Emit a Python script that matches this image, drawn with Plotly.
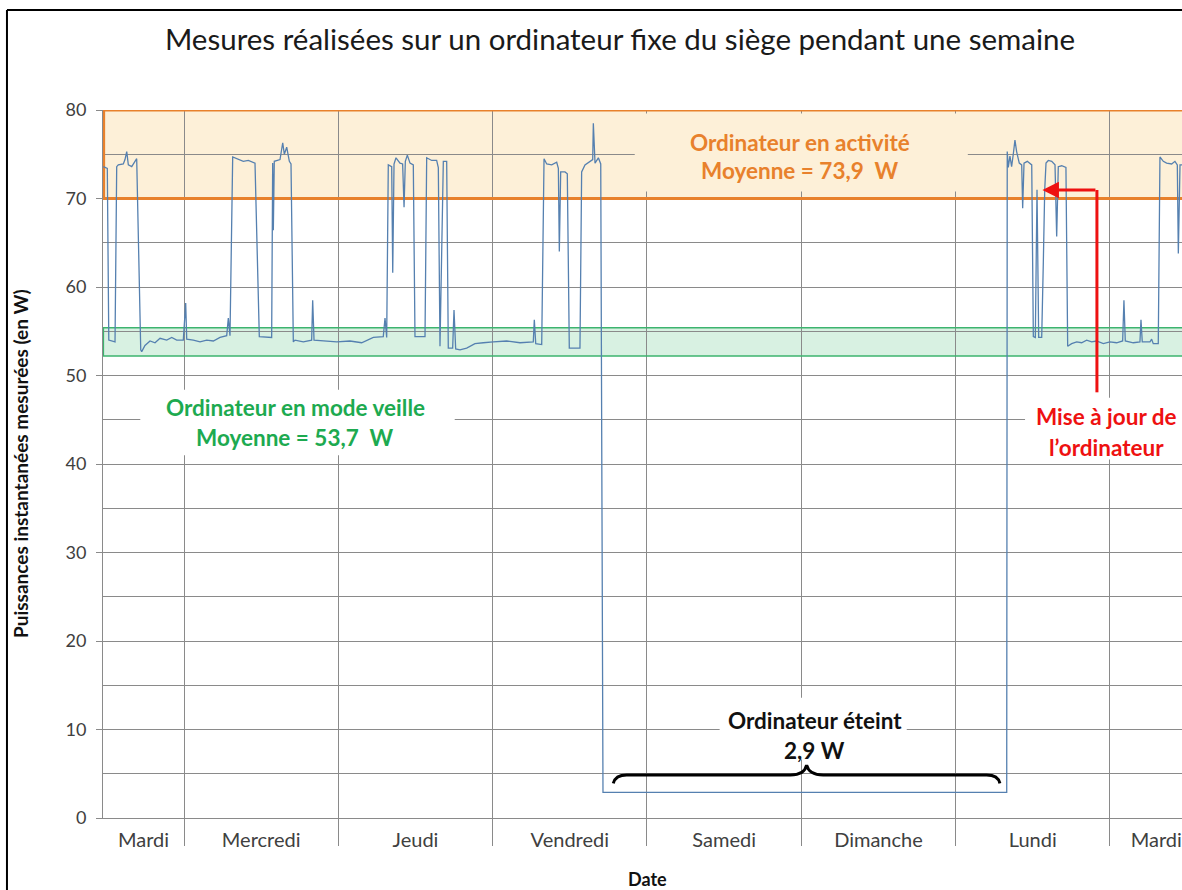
import plotly.graph_objects as go

# ---------------- data (hours since the first Tuesday 00:00, watts) ----------------
hours = [11.45, 12.07, 12.30, 13.27, 13.53, 13.78, 14.56, 14.82, 15.09, 15.34, 15.87, 16.38, 16.64,
         17.27, 17.42, 17.93, 18.71, 19.49, 20.27, 21.31, 22.09, 22.86, 23.89, 24.26, 24.42, 25.45,
         26.49, 27.53, 28.56, 29.60, 30.64, 30.89, 31.15, 31.57, 32.19, 33.22, 34.00, 35.04, 35.71,
         37.63, 37.79, 37.89, 38.04, 38.93, 39.35, 39.60, 39.97, 40.38, 40.64, 41.00, 41.26, 42.55,
         43.85, 44.01, 44.22, 45.66, 47.75, 49.81, 51.63, 53.44, 54.99, 55.26, 55.52, 55.77, 56.30,
         56.46, 56.66, 56.97, 57.59, 58.00, 58.22, 58.42, 58.73, 59.15, 59.66, 59.92, 61.48, 61.74,
         62.52, 63.29, 63.55, 63.81, 64.33, 64.85, 65.10, 65.78, 65.99, 66.25, 66.92, 67.96, 69.25,
         70.54, 71.58, 72.10, 74.18, 76.25, 78.32, 78.48, 78.70, 79.63, 79.99, 80.41, 81.19, 81.96,
         82.22, 82.37, 82.58, 83.25, 83.61, 83.92, 85.58, 85.84, 86.36, 87.14, 87.56, 87.66, 87.92,
         88.44, 88.81, 89.16, 151.95, 152.03, 152.19, 152.45, 152.71, 152.97, 153.23, 153.49, 153.90,
         154.28, 154.43, 154.64, 155.15, 155.84, 156.09, 156.40, 156.66, 156.92, 157.39, 157.64,
         157.86, 158.06, 158.42, 158.95, 159.46, 159.72, 159.97, 160.50, 161.16, 161.43, 162.05,
         162.83, 163.60, 164.38, 165.16, 165.93, 166.97, 168.00, 169.04, 169.98, 170.18, 170.39,
         171.63, 172.67, 172.83, 173.03, 174.23, 174.49, 174.74, 175.52, 175.78, 176.30, 176.82,
         177.60, 178.11, 178.48, 178.64, 178.90, 179.30]
watts = [73.6, 73.4, 54.0, 53.8, 73.6, 73.8, 73.9, 74.4, 75.3, 73.8, 73.6, 74.2, 74.5,
         52.9, 52.7, 53.4, 53.9, 53.7, 54.2, 54.0, 54.3, 54.0, 54.0, 58.2, 54.1, 54.0,
         53.8, 54.0, 53.9, 54.3, 54.5, 56.5, 54.5, 74.7, 74.5, 74.2, 74.3, 74.0, 54.4,
         54.3, 74.0, 66.4, 74.2, 74.4, 76.3, 75.0, 75.8, 74.2, 73.9, 53.8, 54.0, 53.8,
         54.0, 58.5, 54.0, 53.9, 53.8, 53.9, 53.7, 54.3, 54.4, 56.5, 54.3, 73.8, 73.6,
         61.6, 73.9, 74.6, 74.0, 73.9, 69.0, 74.2, 74.9, 74.0, 73.8, 54.4, 54.4, 74.6,
         74.3, 74.3, 73.5, 53.3, 74.2, 74.2, 53.1, 53.1, 57.4, 53.0, 52.9, 53.1, 53.6,
         53.7, 53.8, 53.8, 53.9, 53.7, 53.8, 56.3, 53.6, 53.5, 74.5, 73.9, 73.8, 74.1,
         73.4, 64.0, 73.0, 73.0, 72.8, 53.1, 53.1, 73.0, 73.8, 74.2, 74.4, 78.5, 74.0,
         74.6, 73.9, 2.9, 2.9, 75.3, 73.5, 74.8, 73.6, 75.0, 76.6, 75.3, 74.0,
         73.8, 68.9, 74.0, 74.2, 73.8, 54.4, 54.3, 71.0, 54.3, 54.3, 62.7,
         71.0, 74.0, 74.3, 74.2, 73.8, 65.7, 73.6, 73.7, 73.5, 53.3, 53.6,
         53.8, 53.7, 54.0, 53.8, 53.9, 53.6, 53.8, 53.7, 53.9, 58.5, 53.9,
         53.7, 53.8, 56.3, 53.8, 53.8, 54.1, 53.6, 53.6, 74.7, 74.2, 74.0,
         73.9, 74.2, 73.8, 63.8, 73.8, 73.8]

day_labels = ["Mardi", "Mercredi", "Jeudi", "Vendredi", "Samedi", "Dimanche", "Lundi", "Mardi"]
day_label_pos = [17.7, 36, 60, 84, 108, 132, 156, 175.2]
day_bounds = [24, 48, 72, 96, 120, 144, 168]

active_band = [70, 80]
standby_band = [52.2, 55.4]
active_mean = "73,9"
standby_mean = "53,7"
off_value = "2,9"

X_RANGE = [11.40, 179.21]
FONT = "Lato"
ORANGE = "#E8812C"
GREEN = "#1DAA50"
RED = "#EE1111"
ANN_SIZE = 22.5

fig = go.Figure()
fig.add_trace(go.Scatter(x=hours, y=watts, mode="lines",
                         line=dict(color="#5580B0", width=1.3),
                         hoverinfo="skip", showlegend=False))

shapes = []
# bands (fills under gridlines)
shapes.append(dict(type="rect", xref="paper", yref="y", x0=0, x1=1.0, y0=active_band[0], y1=active_band[1],
                   fillcolor="#FDF0D8", line=dict(width=0), layer="below"))
shapes.append(dict(type="rect", xref="paper", yref="y", x0=0, x1=1.0, y0=standby_band[0], y1=standby_band[1],
                   fillcolor="#D8F1E2", line=dict(width=0), layer="below"))
# text boxes hiding gridlines
for (x0, x1, y0, y1, col) in [(94.1, 145.9, 70.8, 79.6, "#FDF0D8"),
                              (17.2, 66.1, 41.0, 48.4, "white"),
                              (154.8, 185.0, 40.5, 47.5, "white"),
                              (107.3, 136.4, 6.6, 13.6, "white")]:
    shapes.append(dict(type="rect", xref="x", yref="y", x0=x0, x1=x1, y0=y0, y1=y1,
                       fillcolor=col, line=dict(width=0), layer="between"))
# band outlines (data refs so they sit above the gridlines)
shapes.append(dict(type="rect", xref="x", yref="y", x0=X_RANGE[0] + 0.1, x1=190, y0=active_band[0], y1=active_band[1],
                   fillcolor="rgba(0,0,0,0)", line=dict(color=ORANGE, width=3), layer="between"))
shapes.append(dict(type="rect", xref="x", yref="y", x0=X_RANGE[0] + 0.05, x1=190, y0=standby_band[0], y1=standby_band[1],
                   fillcolor="rgba(0,0,0,0)", line=dict(color="#3DB46F", width=1.6), layer="between"))
# red arrow vertical part
shapes.append(dict(type="line", xref="x", yref="y", x0=165.98, x1=165.98, y0=48.1, y1=70.96,
                   line=dict(color=RED, width=3), layer="above"))
# curly brace
brace = ("M 90.76,3.92 Q 91.1,4.86 92.84,4.86 L 118.3,4.86 Q 120.5,4.86 120.83,5.99 "
         "Q 121.2,4.86 123.4,4.86 L 148.82,4.86 Q 150.6,4.86 150.89,3.92")
shapes.append(dict(type="path", xref="x", yref="y", path=brace,
                   line=dict(color="black", width=3), layer="above"))
# outer frame (left and top)
shapes.append(dict(type="line", xref="paper", yref="paper", x0=-0.0890, x1=-0.0890, y0=1.1412, y1=-0.12,
                   line=dict(color="black", width=2)))
shapes.append(dict(type="line", xref="paper", yref="paper", x0=-0.0890, x1=1.01, y0=1.1412, y1=1.1412,
                   line=dict(color="black", width=2)))

annotations = []
def txt(x, y, s, color, size=ANN_SIZE, bold=True, xref="x", yref="y", angle=0):
    annotations.append(dict(x=x, y=y, xref=xref, yref=yref, text=(f"<b>{s}</b>" if bold else s),
                            showarrow=False, textangle=angle,
                            font=dict(family=FONT, size=size, color=color),
                            xanchor="center", yanchor="middle"))

txt(119.8, 76.38, "Ordinateur en activité", ORANGE)
txt(119.8, 73.11, f"Moyenne = {active_mean}  W", ORANGE)
txt(41.26, 46.33, "Ordinateur en mode veille", GREEN)
txt(41.26, 43.05, f"Moyenne = {standby_mean}  W", GREEN)
txt(167.54, 45.42, "Mise à jour de", RED)
txt(167.54, 41.92, "l’ordinateur", RED)
txt(122.1, 11.07, "Ordinateur éteint", "#111111")
txt(122.1, 7.68, f"{off_value} W", "#111111")
# axis titles
txt(-0.0769, 0.5, "Puissances instantanées mesurées (en W)", "#111111", 19,
    xref="paper", yref="paper", angle=-90)
txt(0.505, -0.0865, "Date", "#111111", 18, xref="paper", yref="paper")
# arrow head segment
annotations.append(dict(x=157.5, y=70.96, ax=165.98, ay=70.96, xref="x", yref="y",
                        axref="x", ayref="y", text="", showarrow=True,
                        arrowhead=2, arrowsize=1.1, arrowwidth=3, arrowcolor=RED, standoff=0))

fig.update_layout(
    width=1182, height=890, autosize=False,
    margin=dict(l=103, r=0, t=110, b=72),
    paper_bgcolor="white", plot_bgcolor="white",
    title=dict(text="Mesures réalisées sur un ordinateur fixe du siège pendant une semaine",
               x=620 / 1182, y=1 - 40 / 890, xref="container", yref="container",
               xanchor="center", yanchor="middle",
               font=dict(family=FONT, size=29.5, color="#1A1A1A")),
    shapes=shapes, annotations=annotations, showlegend=False,
    xaxis=dict(range=X_RANGE, tickmode="array", tickvals=day_label_pos, ticktext=day_labels,
               showgrid=False, zeroline=False, showline=True, linecolor="#8A8A8A", linewidth=1,
               ticks="outside", ticklen=4, tickcolor="rgba(0,0,0,0)",
               tickfont=dict(family=FONT, size=20, color="#404040"),
               minor=dict(tickmode="array", tickvals=day_bounds, showgrid=True,
                          gridcolor="#8A8A8A", gridwidth=1, ticks="outside", ticklen=27,
                          tickcolor="#8A8A8A")),
    yaxis=dict(range=[0, 80], dtick=10, tick0=0, showgrid=True, gridcolor="#8A8A8A", gridwidth=1,
               zeroline=False, showline=True, linecolor="#8A8A8A", linewidth=1,
               ticks="outside", ticklen=6, tickcolor="#8A8A8A", ticklabelstandoff=6,
               tickfont=dict(family=FONT, size=18, color="#404040"),
               minor=dict(dtick=5, showgrid=True, gridcolor="#8A8A8A", gridwidth=1)),
)

fig.write_html("out.html", config={"displayModeBar": False},
               post_script="document.body.style.margin='0';document.body.style.overflow='hidden';")
